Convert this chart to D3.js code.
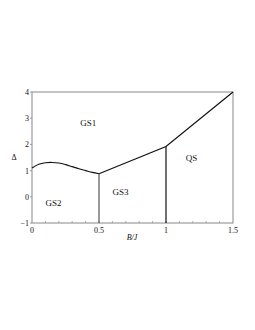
<!DOCTYPE html>
<html>
<head>
<meta charset="utf-8">
<script src="https://cdn.jsdelivr.net/npm/d3@7"></script>
<style>
  body { margin: 0; background: #fff; }
  svg text { font-family: "Liberation Serif", "DejaVu Serif", serif; fill: #111; }
</style>
</head>
<body>
<svg width="255" height="330"></svg>
<script>
// phase boundary GS1 / GS2 (curved part, 0 <= B/J <= 0.5)
const curveB = [0, 0.05, 0.1, 0.15, 0.2, 0.25, 0.3, 0.35, 0.4, 0.45, 0.5];
const curveD = [1.1, 1.24, 1.3, 1.31, 1.29, 1.23, 1.15, 1.07, 1.0, 0.93, 0.88];
// straight boundaries
const lineB = [0.5, 1, 1.5];
const lineD = [0.88, 1.92, 4];
// vertical boundaries
const vertB = [0.5, 1];
const vertTop = [0.88, 1.92];
// region labels
const regionNames = ["GS1", "GS2", "GS3", "QS"];
const regionB = [0.42, 0.16, 0.66, 1.19];
const regionD = [2.72, -0.35, 0.07, 1.37];

const xTicks = [0, 0.5, 1, 1.5];
const xTickLabels = ["0", "0.5", "1", "1.5"];
const yTicks = [-1, 0, 1, 2, 3, 4];

const svg = d3.select("svg");
const plotLeft = 32, plotRight = 233, plotTop = 92, plotBottom = 223;

const x = d3.scaleLinear().domain([0, 1.5]).range([plotLeft, plotRight]);
const y = d3.scaleLinear().domain([-1, 4]).range([plotBottom, plotTop]);

// frame
svg.append("rect")
    .attr("x", plotLeft).attr("y", plotTop)
    .attr("width", plotRight - plotLeft).attr("height", plotBottom - plotTop)
    .attr("fill", "none")
    .attr("stroke", "#888")
    .attr("stroke-width", 1);

// x minor ticks (inside)
svg.append("g")
    .selectAll("line")
    .data(d3.range(1, 15).map(i => i / 10))
    .enter().append("line")
    .attr("x1", d => x(d)).attr("x2", d => x(d))
    .attr("y1", plotBottom).attr("y2", plotBottom - 2)
    .attr("stroke", "#999").attr("stroke-width", 0.8);

// y ticks (small, outside)
svg.append("g")
    .selectAll("line")
    .data(yTicks)
    .enter().append("line")
    .attr("x1", plotLeft - 2).attr("x2", plotLeft)
    .attr("y1", d => y(d)).attr("y2", d => y(d))
    .attr("stroke", "#888").attr("stroke-width", 0.8);

// tick labels
svg.append("g")
    .selectAll("text")
    .data(xTicks)
    .enter().append("text")
    .attr("x", d => x(d))
    .attr("y", plotBottom + 10)
    .attr("text-anchor", "middle")
    .attr("font-size", 8)
    .text((d, i) => xTickLabels[i]);

svg.append("g")
    .selectAll("text")
    .data(yTicks)
    .enter().append("text")
    .attr("x", plotLeft - 3)
    .attr("y", d => y(d) + 3)
    .attr("text-anchor", "end")
    .attr("font-size", 8)
    .text(d => d < 0 ? "\u2212" + Math.abs(d) : d);

// axis titles
svg.append("text")
    .attr("x", 14).attr("y", 160)
    .attr("text-anchor", "middle")
    .attr("font-size", 8)
    .text("\u0394");

svg.append("text")
    .attr("x", 132).attr("y", 240)
    .attr("text-anchor", "middle")
    .attr("font-size", 8)
    .attr("font-style", "italic")
    .text("B/J");

// boundaries
const curvePts = curveB.map((b, i) => [x(b), y(curveD[i])]);
svg.append("path")
    .attr("d", d3.line().curve(d3.curveCatmullRom)(curvePts))
    .attr("fill", "none")
    .attr("stroke", "#111")
    .attr("stroke-width", 1.2);

const linePts = lineB.map((b, i) => [x(b), y(lineD[i])]);
svg.append("path")
    .attr("d", d3.line()(linePts))
    .attr("fill", "none")
    .attr("stroke", "#111")
    .attr("stroke-width", 1.2);

svg.append("g")
    .selectAll("line")
    .data(vertB)
    .enter().append("line")
    .attr("x1", d => x(d)).attr("x2", d => x(d))
    .attr("y1", (d, i) => y(vertTop[i]))
    .attr("y2", y(-1))
    .attr("stroke", (d, i) => i === 0 ? "#555" : "#111")
    .attr("stroke-width", 1.2);

// region labels
svg.append("g")
    .selectAll("text")
    .data(regionNames)
    .enter().append("text")
    .attr("x", (d, i) => x(regionB[i]))
    .attr("y", (d, i) => y(regionD[i]))
    .attr("text-anchor", "middle")
    .attr("font-size", 9)
    .text(d => d);
</script>
</body>
</html>
